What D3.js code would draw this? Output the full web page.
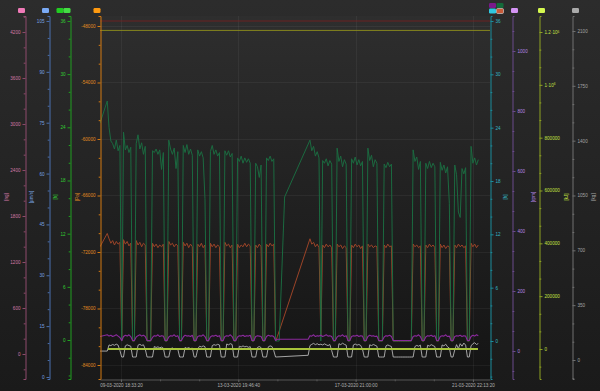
<!DOCTYPE html>
<html><head><meta charset="utf-8">
<script src="https://cdn.jsdelivr.net/npm/d3@7"></script>
<style>body{margin:0;background:#222;} svg{display:block;font-family:"Liberation Sans",Arial,sans-serif;}</style>
</head><body><svg id="c" width="600" height="391"></svg>
<script>
// ---------------- DATA ----------------
const xTickLabels = ["09-03-2020 18:33:20","13-03-2020 19:46:40","17-03-2020 21:00:00","21-03-2020 22:13:20"];
const timeDomain = ["2020-03-09T01:10:00Z","2020-03-22T12:22:00Z"];
const sampleStart = "2020-03-09T01:10:00Z";
const sampleStepSeconds = 5400;

const pinkTicks   = [0,600,1200,1800,2400,3000,3600,4200];
const blueTicks   = [0,15,30,45,60,75,90,105];
const greenTicks  = [0,6,12,18,24,30,36];
const orangeTicks = [-84000,-78000,-72000,-66000,-60000,-54000,-48000];
const tealTicks   = [0,6,12,18,24,30,36];
const purpleTicks = [0,200,400,600,800,1000];
const oliveTicks  = [0,200000,400000,600000,800000,1000000,1200000];
const grayTicks   = [0,350,700,1050,1400,1750,2100];

// dark green series (teal axis, h)
const greenHours = [
24.5,null,null,null,27.0,24.0,22.5,22.2,21.6,22.6,
21.4,22.0,0,23.5,21.5,22.0,21.2,21.8,0,0,
22.2,23.2,21.6,22.3,21.0,21.9,0,0,0,21.4,
21.2,21.6,21.0,21.5,19.3,21.2,0,0,22.6,21.6,
21.0,21.7,19.4,21.3,0,0,22.0,21.2,22.1,21.0,
21.6,20.9,0,0,21.5,20.8,21.3,20.6,16.0,0,
0,21.3,22.0,21.0,21.5,20.8,21.2,0,0,21.4,
20.9,21.4,20.7,21.1,0,0,20.6,20.2,20.8,20.0,
20.6,20.1,20.5,20.0,0,0,20.0,19.6,18.4,19.8,
0,0,20.6,20.3,20.8,20.2,20.5,0,0,0,
null,null,16.2,null,null,null,null,null,null,null,
null,null,null,null,null,null,22.6,21.4,21.9,20.8,
21.3,20.6,0,20.3,20.0,20.5,19.7,20.3,19.9,0,
0,21.7,20.2,20.8,19.6,20.4,19.9,0,0,20.5,
20.0,20.7,19.8,20.4,19.7,20.2,0,0,21.7,20.3,
20.9,19.6,20.4,20.0,0,0,0,19.9,19.5,20.1,
19.6,19.9,0,0,0,0,0,0,0,0,
0,0,0,21.5,20.2,20.7,19.3,20.2,0,0,
20.0,19.4,20.2,19.5,20.0,19.6,0,0,20.1,19.2,
19.8,18.9,19.6,15.5,0,0,19.8,18.7,14.5,13.9,
19.4,18.8,19.5,0,0,21.9,20.0,20.6,19.8,20.4];

// red-brown series (teal axis)
const brownHours = [
10.6,null,null,null,12.1,11.5,11.0,11.3,10.8,11.2,
10.9,11.1,0,11.4,10.9,11.2,10.7,11.0,0,0,
11.3,10.8,11.1,10.6,11.0,10.8,0,0,0,11.0,
10.6,10.9,10.5,10.8,10.6,10.9,0,0,11.2,10.8,
11.0,10.6,10.9,10.7,0,0,11.1,10.7,11.0,10.5,
10.9,10.6,0,0,10.9,10.6,11.0,10.5,10.8,0,
0,11.0,10.6,10.9,10.5,10.8,10.6,0,0,11.1,
10.7,10.9,10.5,10.8,0,0,10.9,10.5,10.8,10.6,
11.0,10.6,10.9,10.7,0,0,10.8,10.5,10.9,10.6,
0,0,10.9,10.6,11.0,10.7,10.9,0,0.5,null,
null,null,null,null,null,null,null,null,null,null,
null,null,null,null,null,null,11.5,10.9,11.1,10.6,
10.9,10.5,0.5,10.8,10.5,10.9,10.6,10.8,10.5,0,
0,10.9,10.6,10.8,10.4,10.7,10.5,0,0,10.8,
10.5,10.9,10.6,10.8,10.4,10.7,0,0,10.9,10.6,
10.8,10.5,10.7,10.6,0,0,0,10.8,10.5,10.9,
10.6,10.7,0,0,0,0,0,0,0,0,
0,0,0,10.9,10.6,10.8,10.5,10.7,0,0,
10.8,10.5,10.9,10.6,10.8,10.5,0,0,10.9,10.5,
10.8,10.4,10.7,10.6,0,0,10.8,10.5,10.9,10.6,
10.8,10.5,10.7,0,0,11.0,10.6,10.9,10.5,10.8];

// purple series (teal axis)
const purpleHours = [
0.5,null,null,null,0.7,0.55,0.65,0.5,0.6,0.7,
0.55,0.4,0.05,0.5,0.65,0.55,0.7,0.5,0.05,0.05,
0.45,0.6,0.7,0.55,0.65,0.5,0.05,0.05,0.05,0.4,
0.6,0.55,0.7,0.5,0.6,0.55,0.05,0.05,0.45,0.6,
0.55,0.7,0.5,0.6,0.05,0.05,0.45,0.65,0.55,0.6,
0.5,0.65,0.05,0.05,0.5,0.6,0.55,0.7,0.5,0.05,
0.05,0.45,0.6,0.55,0.65,0.5,0.6,0.05,0.05,0.5,
0.6,0.55,0.7,0.5,0.05,0.05,0.45,0.6,0.55,0.65,
0.5,0.6,0.55,0.65,0.05,0.05,0.5,0.6,0.55,0.5,
0.05,0.05,0.5,0.65,0.55,0.6,0.5,0.05,0.2,null,
null,null,null,null,null,null,null,null,null,null,
null,null,null,null,null,0.2,0.6,0.55,0.7,0.5,
0.6,0.55,0.65,0.5,0.6,0.7,0.55,0.6,0.5,0.05,
0.05,0.45,0.6,0.55,0.7,0.5,0.6,0.05,0.05,0.5,
0.6,0.55,0.65,0.5,0.6,0.55,0.05,0.05,0.5,0.65,
0.55,0.6,0.5,0.55,0.05,0.05,0.05,0.45,0.6,0.55,
0.65,0.5,0.05,0.05,0.05,0.05,0.05,0.05,0.05,0.05,
0.05,0.05,0.05,0.5,0.6,0.55,0.7,0.5,0.05,0.05,
0.45,0.6,0.55,0.65,0.5,0.6,0.05,0.05,0.5,0.6,
0.55,0.7,0.5,0.55,0.05,0.05,0.5,0.6,0.55,0.65,
0.5,0.6,0.55,0.05,0.05,0.5,0.65,0.55,0.7,0.6];

// light grey series (grey axis)
const greyValues = [
57,null,null,null,57,96,92,99,94,101,
95,60,19,19,90,97,92,88,19,19,
19,94,100,93,97,70,19,19,19,19,
86,80,84,78,82,76,19,19,19,72,
77,70,75,68,19,19,19,80,74,79,
72,76,19,19,70,88,83,90,85,19,
19,19,92,98,94,100,96,19,19,19,
102,97,104,99,19,19,19,88,83,90,
84,87,81,85,19,19,19,80,86,79,
19,19,19,84,90,86,60,19,null,null,
null,null,null,null,null,null,null,null,null,null,
null,null,null,null,null,30,92,100,106,98,
104,97,101,96,103,97,92,99,60,19,
19,19,104,98,107,100,95,19,19,19,
96,102,95,99,93,70,19,19,19,97,
92,99,94,88,19,19,19,19,90,96,
91,86,19,19,19,19,19,19,19,19,
19,19,19,19,86,93,88,95,19,19,
19,94,89,98,92,86,19,19,19,96,
90,101,84,76,19,19,65,98,72,104,
88,108,95,19,19,90,104,110,99,105];

// flat series
const yellowTimes = ["2020-03-09T07:47:00Z","2020-03-22T02:25:00Z"];
const yellowValues = [0,0];
const redTopTimes = ["2020-03-09T01:10:00Z","2020-03-22T12:22:00Z"];
const redTopValues = [36,36];
const oliveTopTimes = ["2020-03-09T01:10:00Z","2020-03-22T12:22:00Z"];
const oliveTopValues = [1206000,1206000];

// ---------------- DRAW ----------------
const W=600,H=391;
const P={left:100,right:490,top:16,bottom:379};
const svg=d3.select("#c");
const defs=svg.append("defs");
function vgrad(id,a,b){const g=defs.append("linearGradient").attr("id",id).attr("x1",0).attr("y1",0).attr("x2",0).attr("y2",1);
 g.append("stop").attr("offset","0%").attr("stop-color",a);g.append("stop").attr("offset","100%").attr("stop-color",b);}
vgrad("bg","#2c2c2c","#1a1a1a");
vgrad("pg","#2e2e2e","#141414");
defs.append("clipPath").attr("id","clip").append("rect").attr("x",P.left).attr("y",P.top).attr("width",P.right-P.left).attr("height",P.bottom-P.top);

svg.append("rect").attr("width",W).attr("height",H).attr("fill","url(#bg)");
svg.append("rect").attr("x",P.left).attr("y",P.top).attr("width",P.right-P.left).attr("height",P.bottom-P.top).attr("fill","url(#pg)");

const FS=4.6;
const x=d3.scaleUtc().domain(timeDomain.map(s=>new Date(s))).range([P.left,P.right]);
const parseT=d3.utcParse("%d-%m-%Y %H:%M:%S");
const xTicks=xTickLabels.map(parseT);

const fmtD=v=>d3.format("d")(v).replace("\u2212","-");
const axes={
 pink:  {side:"left", pos:25, dom:[-326,4409], ticks:pinkTicks, unit:"[ng]", line:"#8e4a6c", txt:"#d27aa6", ux:6},
 blue:  {side:"left", pos:49, dom:[-0.59,106.47], ticks:blueTicks, unit:"[µm/s]", line:"#4a70b0", txt:"#7aa2e2", ux:31},
 green: {side:"left", pos:70, dom:[-4.40,36.56], ticks:greenTicks, unit:"[h]", line:"#20a020", txt:"#34cc34", ux:55},
 orange:{side:"left", pos:100, dom:[-85487,-46938], ticks:orangeTicks, unit:"[Pa]", line:"#d47a12", txt:"#e08c22", ux:77},
 teal:  {side:"right", pos:490, dom:[-4.275,36.5625], ticks:tealTicks, unit:"[h]", line:"#1a8c9c", txt:"#34b6c6", ux:505},
 purple:{side:"right", pos:512, dom:[-93.3,1116.7], ticks:purpleTicks, unit:"[rpm]", line:"#6a4a8c", txt:"#b286e2", ux:533},
 olive: {side:"right", pos:539, dom:[-113565,1260568], ticks:oliveTicks, unit:"[kJ]", line:"#8ea222", txt:"#c4e042", ux:566},
 grey:  {side:"right", pos:572, dom:[-121.3,2195.7], ticks:grayTicks, unit:"[kg]", line:"#707070", txt:"#a4a4a4", ux:593}
};
for(const k in axes){axes[k].scale=d3.scaleLinear().domain(axes[k].dom).range([P.bottom,P.top]);}

// grid
const gGrid=svg.append("g");
gGrid.selectAll("line.h").data(orangeTicks).join("line").attr("x1",P.left).attr("x2",P.right)
 .attr("y1",d=>Math.round(axes.orange.scale(d))+0.5).attr("y2",d=>Math.round(axes.orange.scale(d))+0.5)
 .attr("stroke","#ffffff").attr("stroke-opacity",0.05);
gGrid.selectAll("line.v").data(xTicks).join("line").attr("y1",P.top).attr("y2",P.bottom)
 .attr("x1",d=>Math.round(x(d))+0.5).attr("x2",d=>Math.round(x(d))+0.5)
 .attr("stroke","#ffffff").attr("stroke-opacity",0.05);

// series
const t0=new Date(sampleStart).getTime();
function sampled(arr){return arr.map((v,i)=>({t:new Date(t0+i*sampleStepSeconds*1000),v})).filter(d=>d.v!=null);}
function paired(ts,vs){return ts.map((t,i)=>({t:new Date(t),v:vs[i]}));}
const gS=svg.append("g").attr("clip-path","url(#clip)");
function draw(data,scale,color,w){
 gS.append("path").datum(data).attr("fill","none").attr("stroke",color).attr("stroke-width",w).attr("stroke-linejoin","round")
  .attr("d",d3.line().x(d=>x(d.t)).y(d=>scale(d.v)));
}
draw(paired(redTopTimes,redTopValues),axes.teal.scale,"#7c2020",0.8);
draw(paired(oliveTopTimes,oliveTopValues),axes.olive.scale,"#8e8e1c",0.9);
draw(sampled(greyValues),axes.grey.scale,"#b4b4b4",0.9);
draw(paired(yellowTimes,yellowValues),axes.olive.scale,"#a6c23a",1.8);
draw(sampled(brownHours),axes.teal.scale,"#9c4428",1);
draw(sampled(greenHours),axes.teal.scale,"#1b6a40",1);
draw(sampled(purpleHours),axes.teal.scale,"#8a2a9c",1.1);

// y axes
function minorTicks(a){const st=(a.ticks[1]-a.ticks[0])/3;const out=[];const lo=a.dom[0],hi=a.dom[1];
 for(let v=a.ticks[0]-st*Math.ceil((a.ticks[0]-lo)/st);v<=hi;v+=st){if(v>=lo&&!a.ticks.some(t=>Math.abs(t-v)<st/10))out.push(v);}return out;}
function oliveFmt(v){return v===1000000?["1·10","6"]:v===1200000?["1.2·10","6"]:[String(v)];}
for(const k in axes){
 const a=axes[k];
 const mk=a.side==="left"?d3.axisLeft:d3.axisRight;
 const g=svg.append("g").attr("transform",`translate(${a.pos+0.5},0)`);
 g.call(mk(a.scale).tickValues(minorTicks(a)).tickSize(1.8).tickFormat(""));
 g.select(".domain").remove();
 const g2=svg.append("g").attr("transform",`translate(${a.pos+0.5},0)`);
 g2.call(mk(a.scale).tickValues(a.ticks).tickSize(3).tickSizeOuter(2).tickPadding(2).tickFormat(k==="olive"?(v=>String(v)):fmtD));
 [g,g2].forEach(s=>{s.selectAll("line").attr("stroke",a.line);s.select(".domain").attr("stroke",a.line);});
 g2.selectAll("text").attr("fill",a.txt).attr("font-size",FS).attr("font-family","Liberation Sans, Arial, sans-serif");
 if(k==="olive"){
  g2.selectAll("text").each(function(v){const p=oliveFmt(v);const t=d3.select(this).text(null);
   t.append("tspan").text(p[0]); if(p[1]) t.append("tspan").attr("dy","-0.45em").attr("font-size",FS*0.7).text(p[1]);});
 }
 svg.append("text").attr("transform",`translate(${a.ux},197) rotate(-90)`).attr("text-anchor","middle").attr("dy","0.35em")
  .attr("fill",a.txt).attr("font-size",FS).text(a.unit);
}

// x axis
const gxMinor=svg.append("g").attr("transform",`translate(0,${P.bottom+0.5})`);
const minorX=[];for(let i=0;i<xTicks.length-1;i++){const a=+xTicks[i],b=+xTicks[i+1];minorX.push(new Date(a+(b-a)/3),new Date(a+2*(b-a)/3));}
gxMinor.call(d3.axisBottom(x).tickValues(minorX).tickSize(1.8).tickFormat(""));
gxMinor.select(".domain").remove();
gxMinor.selectAll("line").attr("stroke","#5a5a5a");
const gx=svg.append("g").attr("transform",`translate(0,${P.bottom+0.5})`);
gx.call(d3.axisBottom(x).tickValues(xTicks).tickSize(2.5).tickSizeOuter(0).tickPadding(1.5).tickFormat((d,i)=>xTickLabels[i]));
gx.select(".domain").attr("stroke","#555");
gx.selectAll("line").attr("stroke","#666");
gx.selectAll("text").attr("fill","#b0b0b0").attr("font-size",FS).attr("font-family","Liberation Sans, Arial, sans-serif");

// legend squares
const legend=[
 {x:18,y:8,c:"#f07ab8"},{x:42,y:8,c:"#7aaaf5"},{x:56.5,y:8,c:"#22cc22"},{x:63.5,y:8,c:"#44dd44"},{x:93.5,y:8,c:"#ff9a10"},
 {x:489,y:3,c:"#7a1a8a"},{x:496.5,y:3,c:"#146a3a"},{x:489,y:8.5,c:"#30c8e0"},{x:496.5,y:8.5,c:"#c85a38",s:"#e0e0e0"},
 {x:511,y:8,c:"#d494f4"},{x:538,y:8,c:"#d4f850"},{x:572,y:8,c:"#aaaaaa"}
];
svg.selectAll("rect.lg").data(legend).join("rect").attr("class","lg").attr("x",d=>d.x).attr("y",d=>d.y)
 .attr("width",7).attr("height",5).attr("rx",1.2).attr("fill",d=>d.c).attr("stroke",d=>d.s||"none").attr("stroke-width",0.6);
</script></body></html>
